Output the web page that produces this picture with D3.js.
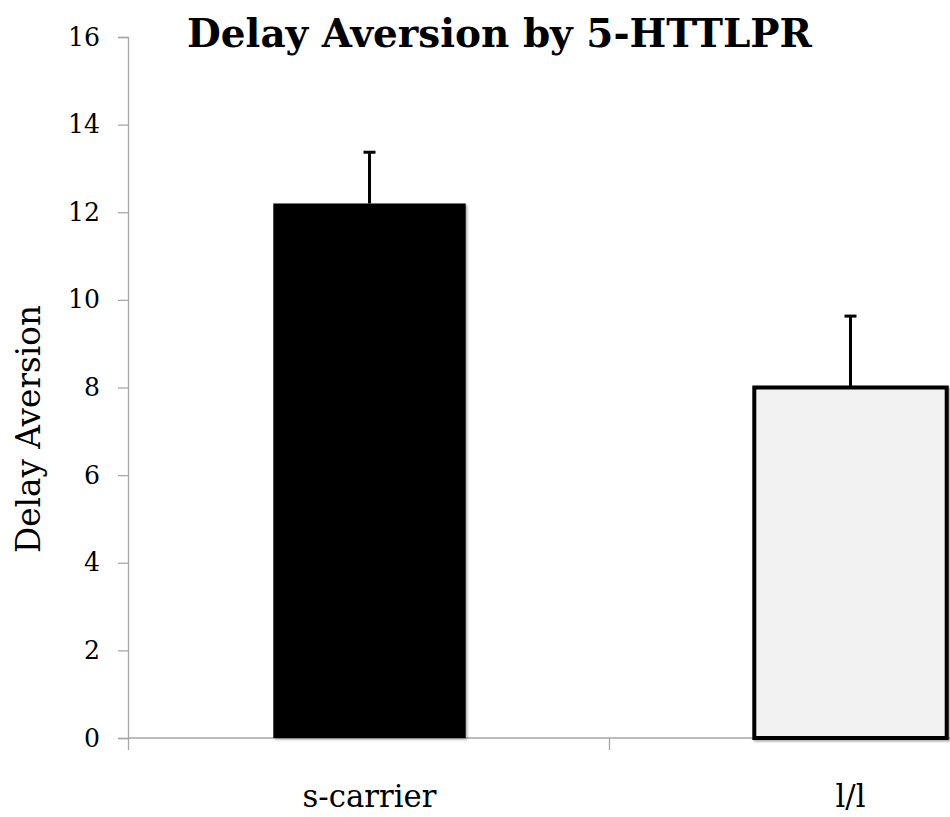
<!DOCTYPE html>
<html>
<head>
<meta charset="utf-8">
<script src="https://cdn.jsdelivr.net/npm/d3@7"></script>
<style>
  html, body { margin: 0; padding: 0; background: #fff; }
  svg { display: block; }
</style>
</head>
<body>
<svg id="chart" width="950" height="817"></svg>
<script>
// ---- data ----
const categories = ["s-carrier", "l/l"];
const meanValues = [12.2, 8.0];
const errorValues = [1.17, 1.63];
const yTicks = [0, 2, 4, 6, 8, 10, 12, 14, 16];
const titleText = "Delay Aversion by 5-HTTLPR";
const yLabelText = "Delay Aversion";

// ---- layout ----
const W = 950, H = 817;
const plotLeft = 129, plotRight = 1091, plotTop = 37, plotBottom = 738;
const FONT = "'DejaVu Serif', 'Liberation Serif', serif";
const axisColor = "#a6a6a6";

const svg = d3.select("#chart");

const y = d3.scaleLinear().domain([0, 16]).range([plotBottom, plotTop]);
const x = d3.scaleBand().domain(categories).range([plotLeft, plotRight]).padding(0);
const barW = x.bandwidth() * 0.4;

function fit(sel, target, base) {
  sel.attr("font-size", base);
  const w = sel.node().getComputedTextLength();
  const fs = base * target / w;
  sel.attr("font-size", fs);
  return fs;
}

// y axis
const yAxisG = svg.append("g")
  .attr("transform", `translate(${plotLeft - 1},0)`)
  .call(d3.axisLeft(y).tickValues(yTicks).tickSize(10).tickSizeOuter(10).tickPadding(18).tickFormat(d3.format("d")));
yAxisG.select(".domain").attr("stroke", axisColor).attr("stroke-width", 1.3);
yAxisG.selectAll(".tick line").attr("stroke", axisColor).attr("stroke-width", 1.3);
yAxisG.selectAll(".tick text").attr("font-family", FONT).attr("fill", "#000");
// fit tick label size on "16"
const t16 = yAxisG.selectAll(".tick text").filter(d => d === 16);
const tickFs = fit(t16, 32, 28);
yAxisG.selectAll(".tick text").attr("font-size", tickFs);
yAxisG.attr("font-size", null);

// x axis: domain line + boundary ticks
const xAxisG = svg.append("g").attr("transform", `translate(0,${plotBottom})`);
xAxisG.append("line")
  .attr("x1", plotLeft - 1).attr("x2", plotRight).attr("y1", 0).attr("y2", 0)
  .attr("stroke", axisColor).attr("stroke-width", 1.3);
const edges = categories.map(c => x(c)).concat([x(categories[categories.length - 1]) + x.step()]);
xAxisG.selectAll("line.edge").data(edges).enter().append("line")
  .attr("class", "edge")
  .attr("x1", d => d - 0.5).attr("x2", d => d - 0.5)
  .attr("y1", 0).attr("y2", 12)
  .attr("stroke", axisColor).attr("stroke-width", 1.3);

// bars
const barData = categories.map((c, i) => ({ c, v: meanValues[i], e: errorValues[i], i }));
const barFill = ["#000000", "#f2f2f2"];

// shadow filter
const defs = svg.append("defs");
const f = defs.append("filter").attr("id", "shadow").attr("x", "-10%").attr("y", "-10%").attr("width", "130%").attr("height", "130%");
f.append("feDropShadow").attr("dx", 1.5).attr("dy", 1.5).attr("stdDeviation", 1.2).attr("flood-color", "#000").attr("flood-opacity", 0.35);

// error bars (drawn under bars)
const eb = svg.append("g");
barData.forEach(d => {
  const cx = x(d.c) + x.bandwidth() / 2;
  eb.append("line")
    .attr("x1", cx).attr("x2", cx)
    .attr("y1", y(d.v)).attr("y2", y(d.v + d.e))
    .attr("stroke", "#000").attr("stroke-width", 3);
  eb.append("line")
    .attr("x1", cx - 6).attr("x2", cx + 6)
    .attr("y1", y(d.v + d.e)).attr("y2", y(d.v + d.e))
    .attr("stroke", "#000").attr("stroke-width", 3);
});

svg.append("g").selectAll("rect").data(barData).enter().append("rect")
  .attr("x", d => x(d.c) + (x.bandwidth() - barW) / 2)
  .attr("y", d => y(d.v))
  .attr("width", barW)
  .attr("height", d => y(0) - y(d.v))
  .attr("fill", d => barFill[d.i])
  .attr("stroke", d => d.i === 1 ? "#000" : "none")
  .attr("stroke-width", 4)
  .attr("filter", "url(#shadow)");

// category labels
const catG = svg.append("g");
const catTexts = catG.selectAll("text").data(categories).enter().append("text")
  .attr("x", d => x(d) + x.bandwidth() / 2)
  .attr("y", 807)
  .attr("text-anchor", "middle")
  .attr("font-family", FONT)
  .attr("fill", "#000")
  .text(d => d);
const catFs = fit(catTexts.filter((d, i) => i === 0), 134, 34);
catTexts.attr("font-size", catFs);

// y label
const yl = svg.append("text")
  .attr("transform", "translate(40,429) rotate(-90)")
  .attr("text-anchor", "middle")
  .attr("font-family", FONT)
  .attr("fill", "#000")
  .text(yLabelText);
fit(yl, 248, 34);

// title
const tt = svg.append("text")
  .attr("x", 499.5).attr("y", 47)
  .attr("text-anchor", "middle")
  .attr("font-family", FONT)
  .attr("font-weight", "bold")
  .attr("fill", "#000")
  .text(titleText);
fit(tt, 625, 44);
</script>
</body>
</html>
